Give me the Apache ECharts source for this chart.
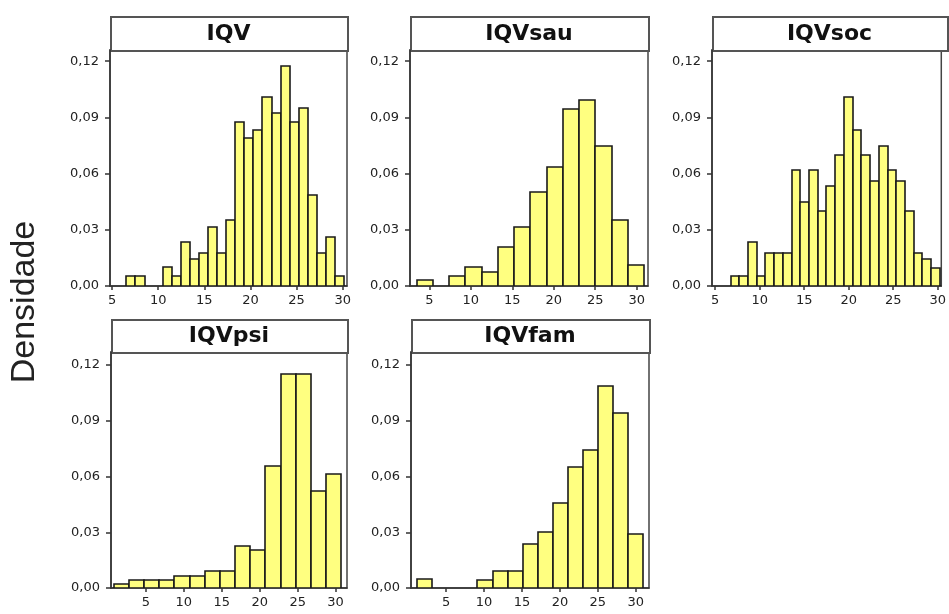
<!DOCTYPE html>
<html>
<head>
<meta charset="utf-8">
<script src="https://cdn.jsdelivr.net/npm/echarts@6/dist/echarts.min.js"></script>
<style>
html,body{margin:0;padding:0;background:#fff;}
#chart{width:949px;height:614px;}
</style>
</head>
<body>
<div id="chart"></div>
<script>
// ---- data ----
const panelNames = ['IQV', 'IQVsau', 'IQVsoc', 'IQVpsi', 'IQVfam'];
const yTicks = [0, 0.03, 0.06, 0.09, 0.12];
const xTicks = [5, 10, 15, 20, 25, 30];
const yLabel = 'Densidade';

const iqvDensity = [0.0054, 0.0054, 0, 0, 0.0102, 0.0054, 0.0236, 0.0146, 0.0175, 0.0313, 0.0175, 0.0354,
  0.0875, 0.0789, 0.0834, 0.1009, 0.0923, 0.1175, 0.0875, 0.0952, 0.0488, 0.0175, 0.0264, 0.0054];
const iqvsauDensity = [0.0032, 0, 0.0054, 0.0102, 0.0077, 0.0209, 0.0313, 0.05, 0.0634, 0.0943, 0.0991,
  0.0745, 0.0354, 0.0111];
const iqvsocDensity = [0.0054, 0.0054, 0.0236, 0.0054, 0.0175, 0.0175, 0.0175, 0.062, 0.045, 0.062, 0.040,
  0.0536, 0.070, 0.101, 0.0834, 0.070, 0.0563, 0.0745, 0.062, 0.0563, 0.040, 0.0175, 0.0146, 0.0098];
const iqvpsiDensity = [0.0023, 0.0045, 0.0045, 0.0045, 0.0066, 0.0066, 0.009, 0.009, 0.0225, 0.0203,
  0.0656, 0.115, 0.115, 0.0524, 0.0616];
const iqvfamDensity = [0.0049, 0, 0, 0, 0.0045, 0.009, 0.009, 0.0237, 0.030, 0.0458, 0.0652, 0.074,
  0.1087, 0.094, 0.0293];

const binStart = [6.56, 3.47, 6.72, 0.75, 1.16];
const binWidth = [0.983, 1.96, 0.98, 2.0, 1.99];
const xMin = [4.78, 2.67, 4.64, 0.4, 0.36];
const xMax = [30.47, 31.36, 30.4, 31.5, 31.75];
const yMax = [0.126, 0.126, 0.126, 0.127, 0.127];

const densities = [iqvDensity, iqvsauDensity, iqvsocDensity, iqvpsiDensity, iqvfamDensity];

// ---- layout ----
const boxes = [
  {left: 110, width: 237, stripTop: 16, top: 50, height: 236},
  {left: 410, width: 238, stripTop: 16, top: 50, height: 236},
  {left: 712, width: 235, stripTop: 16, top: 50, height: 236},
  {left: 111, width: 236, stripTop: 319, top: 352, height: 236},
  {left: 411, width: 238, stripTop: 319, top: 352, height: 236}
];

const chart = echarts.init(document.getElementById('chart'), null, {renderer: 'canvas'});

const grids = [], xAxes = [], yAxes = [], series = [], graphics = [];
const axisColor = '#333';
const labelFont = {color: '#222', fontSize: 13, fontFamily: 'DejaVu Sans'};

function renderItem(params, api) {
  const x0 = api.value(0), x1 = api.value(1), h = api.value(2);
  if (!(h > 0)) return null;
  const p0 = api.coord([x0, h]);
  const p1 = api.coord([x1, 0]);
  return {
    type: 'rect',
    shape: {x: Math.round(p0[0]), y: Math.round(p0[1]),
            width: Math.round(p1[0]) - Math.round(p0[0]), height: Math.round(p1[1]) - Math.round(p0[1])},
    style: {fill: '#ffff80', stroke: '#1a1a1a', lineWidth: 1.6}
  };
}

panelNames.forEach((name, i) => {
  const b = boxes[i];
  grids.push({left: b.left, top: b.top, width: b.width, height: b.height,
    show: true, borderColor: '#444', borderWidth: 1.5, backgroundColor: '#fff'});
  xAxes.push({
    type: 'value', gridIndex: i, min: xMin[i], max: xMax[i],
    splitLine: {show: false},
    axisLine: {show: true, onZero: false, lineStyle: {color: axisColor, width: 1.5}},
    axisTick: {show: true, length: 4, customValues: xTicks, lineStyle: {color: axisColor, width: 1.5}},
    axisLabel: Object.assign({margin: 8, customValues: xTicks, formatter: v => String(v)}, labelFont)
  });
  yAxes.push({
    type: 'value', gridIndex: i, min: 0, max: yMax[i],
    splitLine: {show: false},
    axisLine: {show: true, lineStyle: {color: axisColor, width: 1.5}},
    axisTick: {show: true, length: 5, customValues: yTicks, lineStyle: {color: axisColor, width: 1.5}},
    axisLabel: Object.assign({margin: 11, customValues: yTicks,
      formatter: v => v.toFixed(2).replace('.', ',')}, labelFont)
  });
  const data = densities[i].map((d, k) => [binStart[i] + k * binWidth[i], binStart[i] + (k + 1) * binWidth[i], d]);
  series.push({
    type: 'custom', xAxisIndex: i, yAxisIndex: i, renderItem: renderItem,
    encode: {x: [0, 1], y: 2}, data: data, clip: true
  });
  graphics.push({
    type: 'rect', left: b.left, top: b.stripTop,
    shape: {x: 0, y: 0, width: b.width, height: b.top - b.stripTop},
    style: {fill: '#fff', stroke: '#555', lineWidth: 2}
  });
  graphics.push({
    type: 'text', x: b.left + b.width / 2, y: b.stripTop + (b.top - b.stripTop) / 2 + 1,
    style: {text: name, fill: '#111', font: 'bold 22px "DejaVu Sans"', align: 'center', verticalAlign: 'middle'}
  });
});

graphics.push({
  type: 'text', x: 25, y: 302, rotation: Math.PI / 2,
  style: {text: yLabel, fill: '#222', font: '34px "Liberation Sans"', align: 'center', verticalAlign: 'middle'}
});

chart.setOption({
  animation: false,
  backgroundColor: '#fff',
  grid: grids,
  xAxis: xAxes,
  yAxis: yAxes,
  series: series,
  graphic: graphics
});
</script>
</body>
</html>
